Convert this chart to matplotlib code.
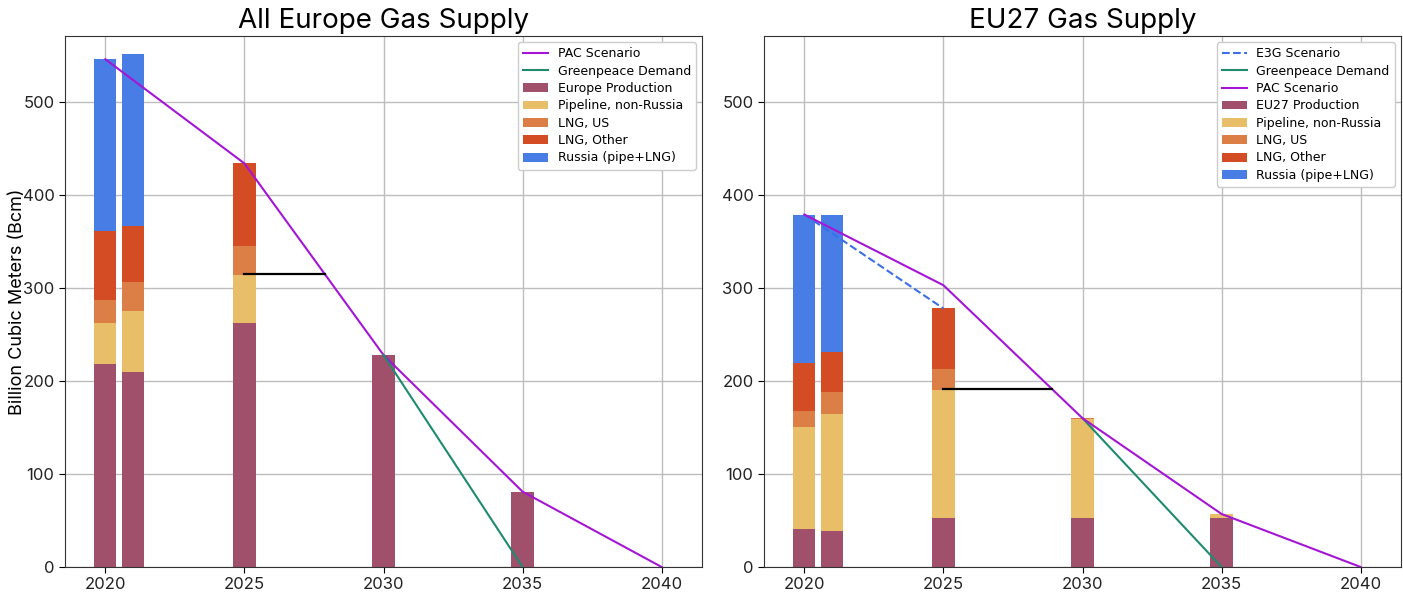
import matplotlib
matplotlib.use("Agg")
import matplotlib.pyplot as plt
import numpy as np

# ---- data (Bcm) ----
bar_years = [2020, 2021, 2025, 2030, 2035]
supply_labels = ["Pipeline, non-Russia", "LNG, US", "LNG, Other", "Russia (pipe+LNG)"]
supply_colors = ["#E9BE69", "#DC7F47", "#D44C24", "#477DE4"]
production_color = "#A0506A"

# All Europe
eu_all_production = [218, 210, 262, 228, 81]
eu_all_pipeline = [44, 65, 52, 0, 0]
eu_all_lng_us = [25, 31, 31, 0, 0]
eu_all_lng_other = [74, 61, 89, 0, 0]
eu_all_russia = [185, 185, 0, 0, 0]

# EU27
eu27_production = [41, 39, 53, 53, 53]
eu27_pipeline = [110, 126, 137, 106, 4]
eu27_lng_us = [17, 23, 23, 1, 0]
eu27_lng_other = [51, 43, 65, 0, 0]
eu27_russia = [160, 148, 0, 0, 0]

scenario_years = [2020, 2025, 2030, 2035, 2040]
pac_all = [546, 434, 228, 81, 0]
pac_eu27 = [379, 303, 160, 57, 0]
e3g_years = [2020, 2025]
e3g_eu27 = [379, 278]
greenpeace_years = [2030, 2035]
greenpeace_all = [228, 0]
greenpeace_eu27 = [160, 0]

# horizontal reference level drawn from 2025 to the PAC line
ref_level_all = 315
ref_level_eu27 = 191

xticks = [2020, 2025, 2030, 2035, 2040]

PAC_C = "#A515D6"
GP_C = "#1E8B6E"
E3G_C = "#3B6FE8"

title_font = "Inter"

fig = plt.figure(figsize=(14.03, 5.95), dpi=100)
W, H = 1403, 595
ax1 = fig.add_axes([65 / W, (H - 567) / H, (702 - 65) / W, (567 - 36) / H])
ax2 = fig.add_axes([764 / W, (H - 567) / H, (1401 - 764) / W, (567 - 36) / H])


def crossing_year(years, vals, level):
    for i in range(len(years) - 1):
        a, b = vals[i], vals[i + 1]
        if (a - level) * (b - level) <= 0 and a != b:
            return years[i] + (a - level) / (a - b) * (years[i + 1] - years[i])
    return years[-1]


def draw_panel(ax, title, prod_label, production, layers, lines, ref_level, pac):
    bottom = np.array(production, dtype=float)
    ax.bar(bar_years, production, width=0.8, color=production_color,
           label=prod_label, zorder=2)
    for vals, lab, col in zip(layers, supply_labels, supply_colors):
        ax.bar(bar_years, vals, width=0.8, bottom=bottom, color=col,
               label=lab, zorder=2)
        bottom = bottom + np.array(vals, dtype=float)
    for (xs, ys, lab, col, ls) in lines:
        ax.plot(xs, ys, color=col, lw=1.5, ls=ls, label=lab, zorder=3)
    xend = crossing_year(scenario_years, pac, ref_level)
    ax.plot([2025, xend], [ref_level, ref_level], color="black", lw=1.6, zorder=3)

    ax.set_xlim(2018.55, 2041.45)
    ax.set_ylim(0, 571)
    ax.set_xticks(xticks)
    ax.set_yticks([0, 100, 200, 300, 400, 500])
    ax.grid(True, color="#BDBDBD", lw=1.0, zorder=0)
    ax.set_axisbelow(True)
    for s in ax.spines.values():
        s.set_color("#333333")
    ax.tick_params(labelsize=12, length=4, labelcolor="#222222")
    for lbl in ax.get_xticklabels() + ax.get_yticklabels():
        lbl.set_family(title_font)
    ax.set_title(title, fontsize=20, family=title_font, pad=6)

    ax.legend(loc="upper right", fontsize=9, framealpha=1, edgecolor="#CCCCCC",
              handlelength=2.0, borderpad=0.4, labelspacing=0.35)


draw_panel(ax1, "All Europe Gas Supply", "Europe Production", eu_all_production,
           [eu_all_pipeline, eu_all_lng_us, eu_all_lng_other, eu_all_russia],
           [(scenario_years, pac_all, "PAC Scenario", PAC_C, "-"),
            (greenpeace_years, greenpeace_all, "Greenpeace Demand", GP_C, "-")],
           ref_level_all, pac_all)

draw_panel(ax2, "EU27 Gas Supply", "EU27 Production", eu27_production,
           [eu27_pipeline, eu27_lng_us, eu27_lng_other, eu27_russia],
           [(e3g_years, e3g_eu27, "E3G Scenario", E3G_C, "--"),
            (greenpeace_years, greenpeace_eu27, "Greenpeace Demand", GP_C, "-"),
            (scenario_years, pac_eu27, "PAC Scenario", PAC_C, "-")],
           ref_level_eu27, pac_eu27)

ax1.set_ylabel("Billion Cubic Meters (Bcm)", fontsize=13, family=title_font)
ax1.yaxis.set_label_coords(-0.062, 0.5)

fig.savefig("out.png", dpi=100)
